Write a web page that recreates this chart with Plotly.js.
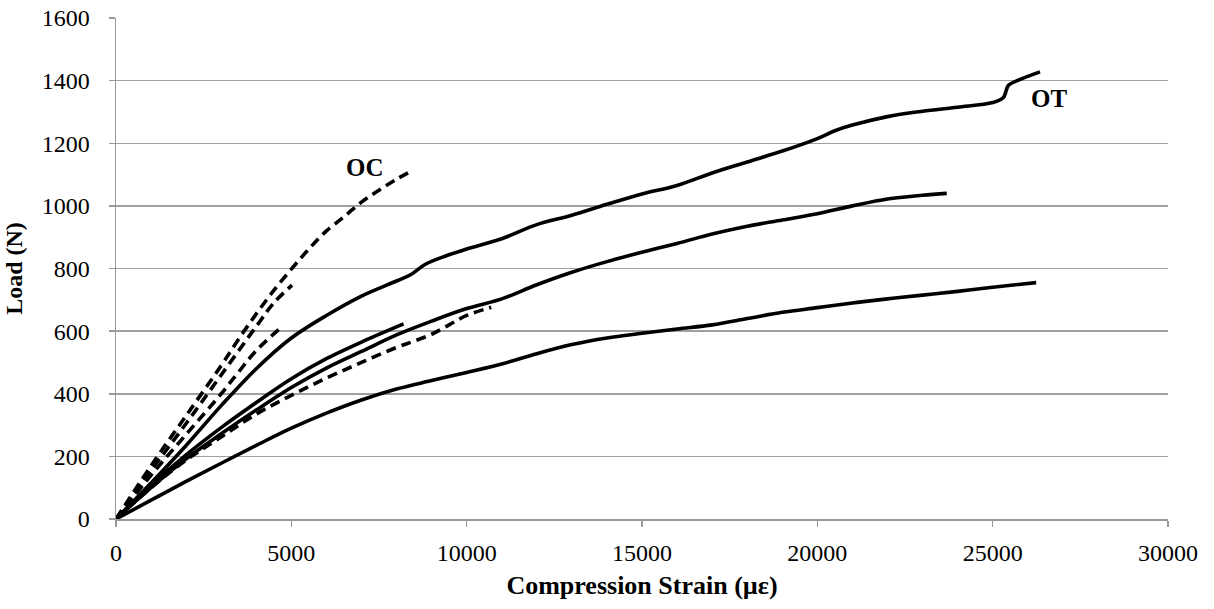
<!DOCTYPE html>
<html>
<head>
<meta charset="utf-8">
<script src="https://cdn.plot.ly/plotly-3.0.1.min.js"></script>
<style>
  html, body { margin: 0; padding: 0; background: #fff; }
  #chart { width: 1214px; height: 609px; }
</style>
</head>
<body>
<div id="chart"></div>
<script>
// Load vs. compression strain, one array pair per specimen curve.
const otStrain  = [0, 1000, 2000, 3000, 4000, 5000, 6000, 7000, 8000, 8400, 8800, 9400, 10000, 11000, 12000, 13000, 14000, 15000, 16000, 17000, 18000, 19000, 20000, 20500, 21000, 22000, 23000, 24000, 25000, 25300, 25450, 25700, 26350];
const otLoad    = [0, 115, 235, 362, 480, 578, 650, 712, 760, 780, 812, 840, 862, 895, 940, 970, 1005, 1038, 1065, 1105, 1140, 1175, 1215, 1240, 1258, 1285, 1302, 1315, 1330, 1345, 1385, 1400, 1428];

const midStrain = [0, 1000, 2000, 3000, 4000, 5000, 6000, 7000, 8000, 9000, 10000, 11000, 12000, 13000, 14000, 15000, 16000, 17000, 18000, 19000, 20000, 21000, 22000, 23000, 23690];
const midLoad   = [0, 100, 192, 272, 348, 420, 482, 535, 588, 632, 672, 703, 748, 788, 822, 852, 880, 910, 935, 955, 975, 1000, 1022, 1034, 1040];

const lowStrain = [0, 1000, 2000, 3000, 4000, 5000, 6000, 7000, 8000, 9000, 10000, 11000, 12000, 13000, 14000, 15000, 16000, 17000, 18000, 19000, 20000, 21000, 22000, 23000, 24000, 25000, 26240];
const lowLoad   = [0, 60, 120, 178, 235, 290, 338, 380, 415, 442, 468, 495, 528, 557, 578, 593, 607, 620, 640, 660, 675, 690, 703, 715, 727, 740, 755];

const shortStrain = [0, 1000, 2000, 3000, 4000, 5000, 6000, 7000, 8200];
const shortLoad   = [0, 108, 205, 292, 372, 448, 512, 565, 623];

const ocStrain  = [0, 1000, 2000, 3000, 3500, 4000, 4500, 5000, 5500, 6000, 6500, 7000, 7500, 8000, 8440];
const ocLoad    = [0, 170, 330, 490, 575, 655, 730, 798, 862, 920, 965, 1012, 1050, 1085, 1112];

const oc2Strain = [0, 1000, 2000, 3000, 4000, 4500, 5020];
const oc2Load   = [0, 155, 305, 460, 615, 690, 747];

const oc3Strain = [0, 1000, 2000, 3000, 3500, 4000, 4680];
const oc3Load   = [0, 140, 270, 400, 470, 538, 609];

const oc4Strain = [0, 1000, 2000, 3000, 4000, 5000, 6000, 7000, 8000, 8500, 9000, 9500, 10000, 10700];
const oc4Load   = [0, 100, 188, 262, 335, 395, 450, 500, 548, 568, 590, 620, 650, 676];

const xTicks = [0, 5000, 10000, 15000, 20000, 25000, 30000];
const yTicks = [0, 200, 400, 600, 800, 1000, 1200, 1400, 1600];

const curveLabels = [
  { text: 'OC', x: 7108, y: 1123 },
  { text: 'OT', x: 26610, y: 1344 }
];

const serif = "'Liberation Serif', 'Times New Roman', serif";
const solidLine  = { color: '#000', width: 3.6, shape: 'spline', smoothing: 1 };
const dashedLine = { color: '#000', width: 3.6, shape: 'spline', smoothing: 1, dash: '10px,6px' };

function curve(x, y, line) {
  return { x: x, y: y, type: 'scatter', mode: 'lines', line: line, hoverinfo: 'x+y', showlegend: false };
}

const traces = [
  curve(lowStrain, lowLoad, solidLine),
  curve(oc4Strain, oc4Load, dashedLine),
  curve(midStrain, midLoad, solidLine),
  curve(shortStrain, shortLoad, solidLine),
  curve(oc3Strain, oc3Load, dashedLine),
  curve(otStrain, otLoad, solidLine),
  curve(oc2Strain, oc2Load, dashedLine),
  curve(ocStrain, ocLoad, dashedLine)
];

const layout = {
  width: 1214,
  height: 609,
  margin: { l: 116, r: 46, t: 18, b: 90 },
  paper_bgcolor: '#fff',
  plot_bgcolor: '#fff',
  font: { family: serif, size: 24, color: '#000' },
  showlegend: false,
  xaxis: {
    range: [0, 30000],
    tickvals: xTicks,
    ticktext: xTicks.map(String),
    showgrid: false,
    zeroline: false,
    showline: true,
    linecolor: '#999',
    linewidth: 1.5,
    ticks: 'outside',
    ticklen: 6,
    tickwidth: 1.5,
    tickcolor: '#999',
    ticklabelstandoff: 6,
    tickfont: { family: serif, size: 24, color: '#000' },
    title: { text: '<b>Compression Strain (µε)</b>', font: { family: serif, size: 26, color: '#000' }, standoff: 10 }
  },
  yaxis: {
    range: [0, 1600],
    tickvals: yTicks,
    ticktext: yTicks.map(String),
    showgrid: true,
    gridcolor: '#a0a0a0',
    gridwidth: 1.5,
    zeroline: false,
    showline: true,
    linecolor: '#999',
    linewidth: 1.5,
    ticks: 'outside',
    ticklen: 6,
    tickwidth: 1.5,
    tickcolor: '#999',
    ticklabelstandoff: 14,
    tickfont: { family: serif, size: 24, color: '#000' },
    title: { text: '<b>Load (N)</b>', font: { family: serif, size: 24, color: '#000' }, standoff: 12 }
  },
  annotations: curveLabels.map(l => ({
    x: l.x, y: l.y, xref: 'x', yref: 'y', text: '<b>' + l.text + '</b>',
    showarrow: false, font: { family: serif, size: 25, color: '#000' }
  }))
};

Plotly.newPlot('chart', traces, layout, { staticPlot: true, displayModeBar: false });
</script>
</body>
</html>
